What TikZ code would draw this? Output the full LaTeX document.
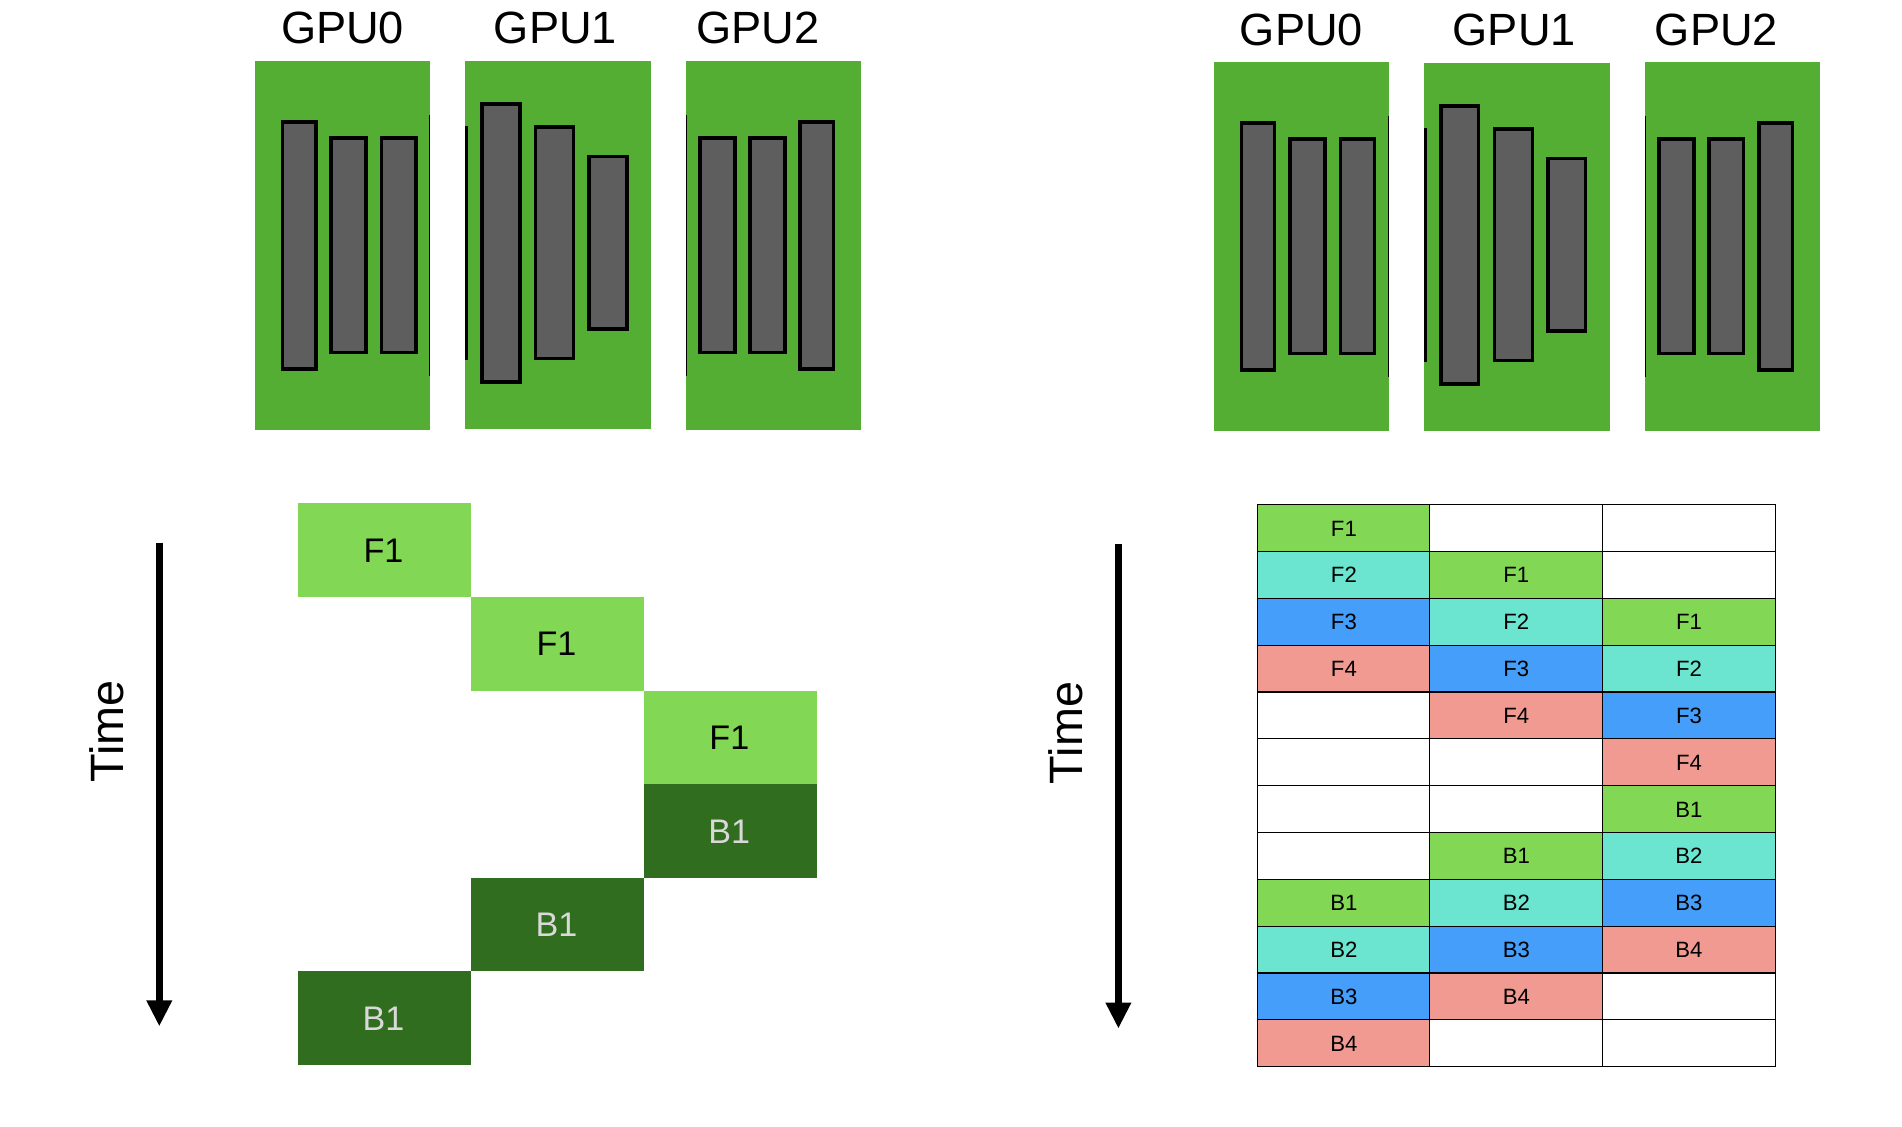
\documentclass[tikz,border=0pt]{standalone}
\usepackage{fontspec}
\setmainfont{Liberation Sans}
\usetikzlibrary{arrows.meta}
\definecolor{boardgreen}{HTML}{54AE33}
\definecolor{bargray}{HTML}{5E5E5E}
\definecolor{fwdgreen}{HTML}{82D755}
\definecolor{bwdgreen}{HTML}{316D1E}
\definecolor{cellteal}{HTML}{6BE5CF}
\definecolor{cellblue}{HTML}{459EFA}
\definecolor{cellsalmon}{HTML}{F19A91}
\tikzset{
  board/.style={fill=boardgreen},
  strip/.style={fill=black},
  bar/.style={draw=black, fill=bargray, line width=0.035cm},
  gpulabel/.style={anchor=base, inner sep=0pt, font=\fontsize{12.85}{16}\selectfont},
  timelabel/.style={anchor=base, rotate=90, inner sep=0pt, font=\fontsize{13.3}{16}\selectfont},
  timearrow/.style={line width=0.07cm, -{Triangle[length=0.26cm, width=0.24cm]}},
  block/.style={minimum width=1.725cm, minimum height=0.936cm, inner sep=0pt, outer sep=0pt, text height=0.24cm, text depth=0pt, font=\fontsize{9.7}{12}\selectfont},
  fwdblock/.style={block, fill=fwdgreen, text=black},
  bwdblock/.style={block, fill=bwdgreen, text=black!15},
  tblcell/.style={draw=black, line width=0.012cm, minimum width=1.7297cm, minimum height=0.4683cm, inner sep=0pt, outer sep=0pt, text height=0.16cm, text depth=0pt, font=\fontsize{6.3}{8}\selectfont},
  tone/.style={fill=white},
  toneF1/.style={fill=fwdgreen}, toneB1/.style={fill=fwdgreen},
  toneF2/.style={fill=cellteal}, toneB2/.style={fill=cellteal},
  toneF3/.style={fill=cellblue}, toneB3/.style={fill=cellblue},
  toneF4/.style={fill=cellsalmon}, toneB4/.style={fill=cellsalmon},
}
\begin{document}
\begin{tikzpicture}[x=0.01cm, y=-0.01cm]
  \useasboundingbox (0,0) rectangle (1902,1126);
  % the two rows of GPU boards
  \foreach \dx/\dy/\dz/\side in {0/0/0/l, 958.9/1/2/r} {
    \fill[board, shift={(\dx,\dy)}] (255.1,61) rectangle (429.8,430);
    \fill[board, shift={(\dx,\dz)}] (464.9,61) rectangle (651,429);
    \fill[board, shift={(\dx,\dy)}] (686.1,61) rectangle (860.8,430);
    \fill[strip, shift={(\dx,\dy)}] (429,115) rectangle (429.8,376);
    \fill[strip, shift={(\dx,\dz)}] (464.9,125.7) rectangle (468.2,360);
    \fill[strip, shift={(\dx,\dy)}] (686.1,115) rectangle (687,376);
    \foreach \xa/\ya/\xb/\yb in {282.5/121.8/315.8/368.8, 331.2/138.2/366/352.5, 381.4/138.2/415.8/352.5, 700.2/138.2/735/352.5, 750/138.2/784.8/352.5, 800.2/121.8/833.4/368.8}
      \draw[bar, shift={(\dx,\dy)}] (\xa,\ya) rectangle (\xb,\yb);
    \foreach \xa/\ya/\xb/\yb in {482.2/104.2/519.8/381.8, 535.6/127.2/573.4/358.5, 589/156.5/626.8/329.2}
      \draw[bar, shift={(\dx,\dz)}] (\xa,\ya) rectangle (\xb,\yb);
    \foreach \x/\g in {342.6/0, 555.4/1, 757.6/2}
      \node[gpulabel, shift={(\dx,\dz)}] (gpu\g\side) at (\x,43.3) {GPU\g};
  }
  % time axes
  \coordinate (timetopl) at (159.3,542.5);
  \coordinate (timeendl) at (159.3,1026.4);
  \coordinate (timetopr) at (1118.4,543.9);
  \coordinate (timeendr) at (1118.4,1028.6);
  \draw[timearrow] (timetopl) -- (timeendl);
  \draw[timearrow] (timetopr) -- (timeendr);
  \node[timelabel] (timel) at (123.3,731.5) {Time};
  \node[timelabel] (timer) at (1082.5,733) {Time};
  % one microbatch
  \foreach \c/\r in {0/0, 1/1, 2/2}
    \node[fwdblock] (f\c) at ({384.4+172.9*\c},{550.2+93.6*\r}) {\hspace{-0.5pt}F1};
  \foreach \c/\r in {2/3, 1/4, 0/5}
    \node[bwdblock] (b\c) at ({384.4+172.9*\c},{550.2+93.6*\r}) {\hspace{-0.5pt}B1};
  % four microbatches
  \foreach \first/\second/\third [count=\r from 0] in {F1//, F2/F1/, F3/F2/F1, F4/F3/F2, /F4/F3, //F4, //B1, /B1/B2, B1/B2/B3, B2/B3/B4, B3/B4/, B4//} {
    \node[tblcell, tone\first] (t\r a) at (1343.9,{528.1+46.83*\r}) {\first};
    \node[tblcell, tone\second] (t\r b) at (1516.3,{528.1+46.83*\r}) {\second};
    \node[tblcell, tone\third] (t\r c) at (1689,{528.1+46.83*\r}) {\third};
  }
\end{tikzpicture}
\end{document}
